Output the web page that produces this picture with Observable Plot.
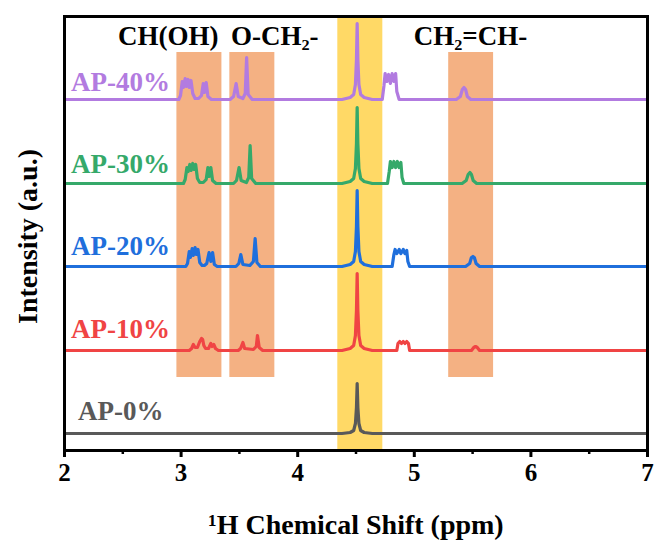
<!DOCTYPE html>
<html><head><meta charset="utf-8">
<script src="https://cdn.jsdelivr.net/npm/d3@7"></script>
<script src="https://cdn.jsdelivr.net/npm/@observablehq/plot@0.6"></script>
<style>body{margin:0;background:#fff} svg text{font-family:'Liberation Serif','Times New Roman',serif !important}</style>
</head><body><div id="chart"></div>
<script>
// ---- data ----
const seriesNames = ["AP-0%", "AP-10%", "AP-20%", "AP-30%", "AP-40%"];
const seriesColors = ["#595959", "#f04444", "#1f6fdc", "#35a96a", "#b27be0"];
const seriesOffsets = [0, 83, 167, 250, 334];

// [chemical shift (ppm), intensity above own baseline (a.u.)]
const ap0 = [[2,0],[4.38,0],[4.45,1],[4.48,3],[4.495,10],[4.504,26],[4.51,50],[4.516,26],[4.525,10],[4.54,3],[4.57,1],[4.64,0],[7,0]];
const ap10 = [[2,0],[3.07,0],[3.09,2],[3.105,6],[3.12,3],[3.14,3],[3.16,9],[3.175,12],[3.185,11],[3.195,5],[3.21,2],[3.235,2],[3.255,7],[3.265,4],[3.28,6],[3.295,2],[3.32,0],[3.49,0],[3.51,2],[3.53,8],[3.545,2],[3.62,1],[3.645,4],[3.655,15],[3.67,3],[3.70,0],[4.38,0],[4.45,2],[4.48,5],[4.495,15],[4.504,40],[4.51,77],[4.516,40],[4.525,15],[4.54,5],[4.57,2],[4.64,0],[4.85,0],[4.86,7],[4.875,9],[4.89,7],[4.905,9],[4.92,7],[4.935,9],[4.95,7],[4.96,0],[5.49,0],[5.51,3],[5.525,4],[5.54,3],[5.56,0],[7,0]];
const ap20 = [[2,0],[3.04,0],[3.055,3],[3.07,15],[3.08,9],[3.095,18],[3.105,11],[3.12,19],[3.13,12],[3.145,17],[3.16,4],[3.18,1],[3.20,1],[3.22,3],[3.24,14],[3.255,5],[3.27,14],[3.285,2],[3.31,0],[3.47,0],[3.495,3],[3.512,12],[3.53,2],[3.59,1],[3.62,5],[3.635,28],[3.65,4],[3.68,0],[4.38,0],[4.45,2],[4.48,5],[4.495,15],[4.504,40],[4.51,76],[4.516,40],[4.525,15],[4.54,5],[4.57,2],[4.64,0],[4.81,0],[4.825,12],[4.835,17],[4.85,13],[4.87,17],[4.885,13],[4.905,17],[4.92,13],[4.935,16],[4.945,5],[4.96,0],[5.44,0],[5.475,3],[5.49,9],[5.503,10],[5.515,9],[5.53,3],[5.56,0],[7,0]];
const ap30 = [[2,0],[3.02,0],[3.035,4],[3.05,16],[3.06,12],[3.075,19],[3.085,13],[3.10,20],[3.11,14],[3.125,19],[3.14,5],[3.16,1],[3.19,1],[3.215,4],[3.23,16],[3.24,7],[3.255,16],[3.27,3],[3.30,0],[3.45,0],[3.475,3],[3.497,16],[3.515,3],[3.56,1],[3.58,6],[3.592,38],[3.605,5],[3.64,0],[4.38,0],[4.45,2],[4.48,5],[4.495,15],[4.504,40],[4.51,76],[4.516,40],[4.525,15],[4.54,5],[4.57,2],[4.64,0],[4.77,0],[4.785,12],[4.795,22],[4.81,16],[4.825,22],[4.84,16],[4.855,22],[4.87,16],[4.885,21],[4.895,6],[4.91,0],[5.41,0],[5.445,3],[5.462,9],[5.477,11],[5.49,9],[5.505,3],[5.535,0],[7,0]];
const ap40 = [[2,0],[2.98,0],[2.995,4],[3.01,18],[3.02,12],[3.035,21],[3.045,13],[3.06,20],[3.07,12],[3.085,19],[3.10,6],[3.12,1],[3.15,1],[3.175,4],[3.19,16],[3.20,7],[3.215,17],[3.23,3],[3.26,0],[3.42,0],[3.45,3],[3.472,16],[3.49,3],[3.53,1],[3.55,6],[3.562,42],[3.575,5],[3.61,0],[4.38,0],[4.45,2],[4.48,5],[4.495,15],[4.504,40],[4.51,76],[4.516,40],[4.525,15],[4.54,5],[4.57,2],[4.64,0],[4.725,0],[4.74,14],[4.75,26],[4.765,18],[4.78,25],[4.795,16],[4.81,26],[4.825,18],[4.84,26],[4.85,8],[4.87,0],[5.36,0],[5.395,3],[5.412,10],[5.426,12],[5.44,10],[5.455,3],[5.485,0],[7,0]];
const spectra = [ap0, ap10, ap20, ap30, ap40];

const orangeBands = [[2.964, 3.35], [3.418, 3.804], [5.295, 5.68]];
const yellowBands = [[4.344, 4.73]];
const bandBottom = 56, bandTop = 381;

const groupLabels = ["CH(OH)", "O-CH₂-", "CH₂=CH-"];
const groupLabelX = [2.459, 3.427, 4.995];
const groupLabelY = 389;
const seriesLabelX = [2.116, 2.056, 2.056, 2.056, 2.056];
const seriesLabelY = [14, 96, 179, 261, 343];

const xTicks = [2, 3, 4, 5, 6, 7];
const xTickLabels = ["2", "3", "4", "5", "6", "7"];
const xMinorTicks = [2.5, 3.5, 4.5, 5.5, 6.5];
const xTitle = "¹H Chemical Shift (ppm)";
const yTitle = "Intensity (a.u.)";
const yTitlePos = {x: 1.764, y: 197};

// ---- build ----
const rows = spectra.flatMap((pts, i) => pts.map(([ppm, v]) => ({ppm, v: v + seriesOffsets[i], name: seriesNames[i]})));
const seriesLabels = seriesNames.map((name, i) => ({name, x: seriesLabelX[i], y: seriesLabelY[i], color: seriesColors[i]}));
const groups = groupLabels.map((t, i) => ({t, x: groupLabelX[i], y: groupLabelY}));
const font = "'Liberation Serif','Times New Roman',serif";

const chart = Plot.plot({
  width: 656, height: 548,
  marginLeft: 64, marginRight: 9, marginTop: 16, marginBottom: 98,
  style: {fontFamily: font, background: "#fff", overflow: "visible"},
  x: {domain: [2, 7], label: null},
  y: {domain: [-17, 417], axis: null},
  color: {domain: seriesNames, range: seriesColors},
  marks: [
    Plot.rect(yellowBands, {x1: d => d[0], x2: d => d[1], fill: "#ffd966"}),
    Plot.rect(orangeBands, {x1: d => d[0], x2: d => d[1], y1: () => bandBottom, y2: () => bandTop, fill: "#f4b183"}),
    Plot.line(rows, {x: "ppm", y: "v", z: "name", stroke: "name", strokeWidth: 3.2, curve: "linear", strokeLinejoin: "round"}),
    Plot.text(groups, {x: "x", y: "y", text: "t", textAnchor: "start", lineAnchor: "bottom", fontSize: 27, fontWeight: "bold", fill: "black"}),
    Plot.text(seriesLabels, {x: "x", y: "y", text: "name", fill: "color", textAnchor: "start", lineAnchor: "bottom", fontSize: 27, fontWeight: "bold"}),
    Plot.axisX(xTicks, {tickSize: 7, tickPadding: 6, strokeWidth: 3, fontSize: 25, fontWeight: "bold", fill: "black", tickFormat: d => xTickLabels[xTicks.indexOf(d)], label: null}),
    Plot.axisX(xMinorTicks, {tickSize: 4, strokeWidth: 2.5, tickFormat: () => "", label: null}),
    Plot.text([xTitle], {frameAnchor: "bottom", dy: 83, lineAnchor: "bottom", fontSize: 28, fontWeight: "bold", fill: "black"}),
    Plot.text([yTitle], {x: () => yTitlePos.x, y: () => yTitlePos.y, rotate: -90, lineAnchor: "bottom", fontSize: 28, fontWeight: "bold", fill: "black"}),
    Plot.frame({stroke: "black", strokeWidth: 3})
  ]
});
document.getElementById("chart").appendChild(chart);
</script>
</body></html>
